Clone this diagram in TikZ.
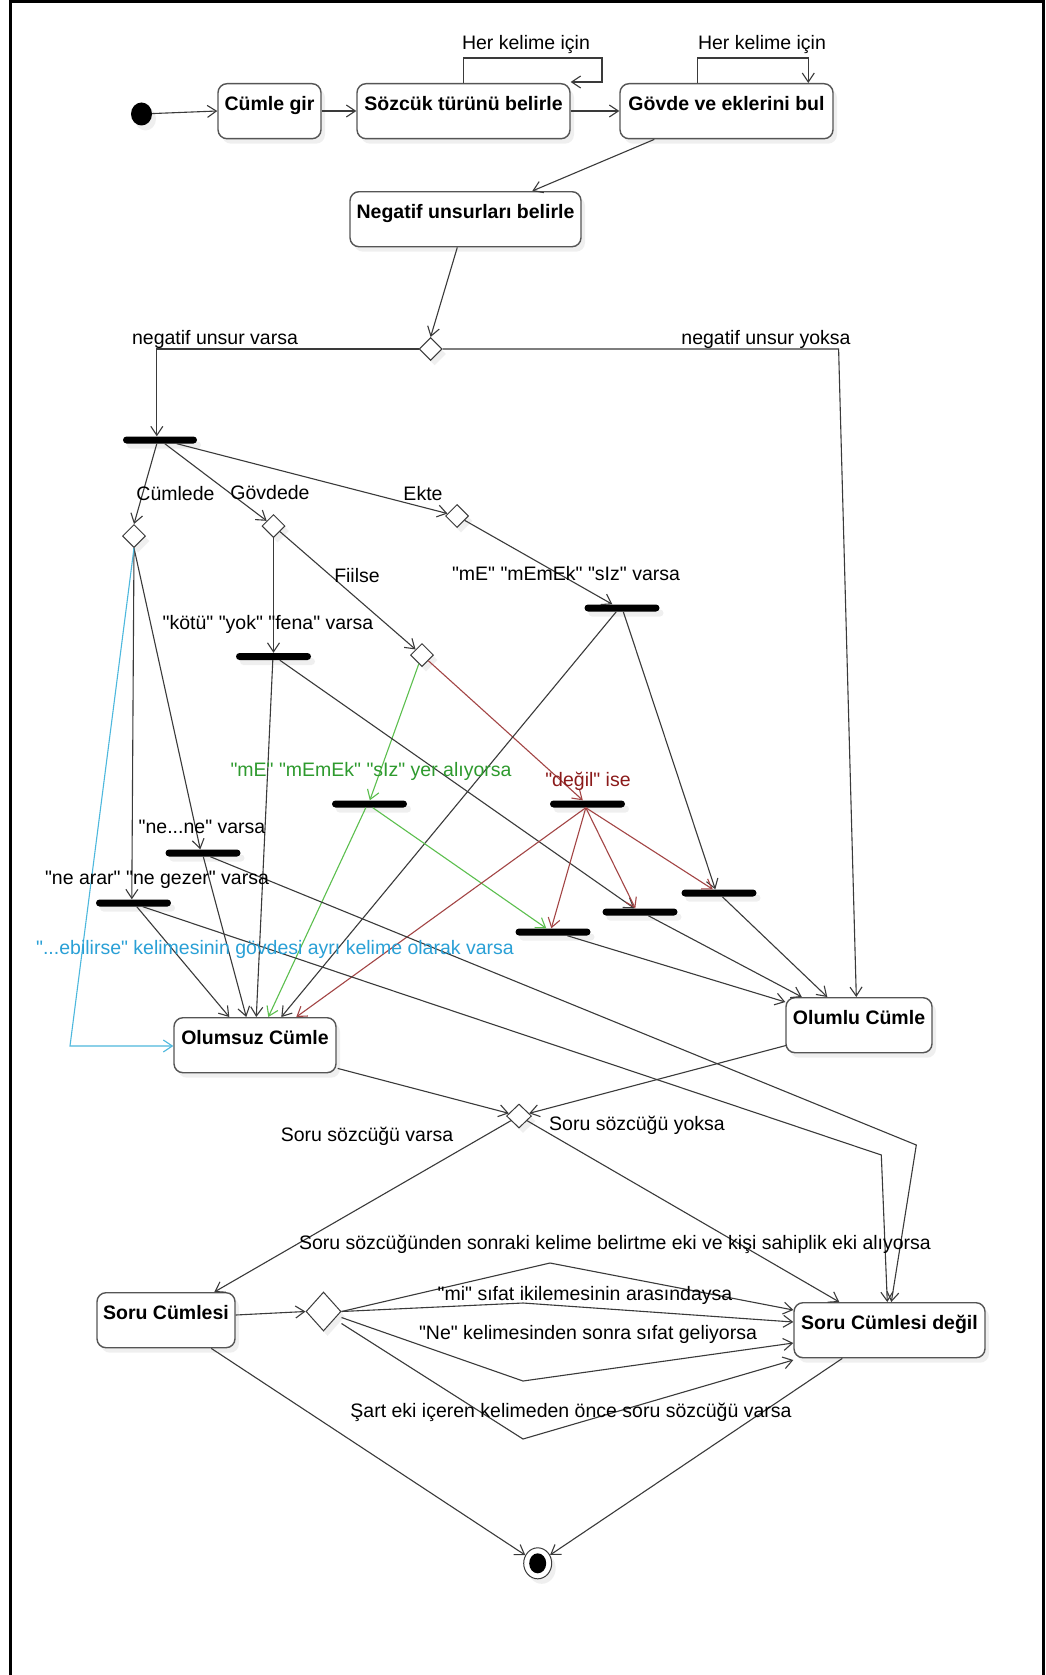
\documentclass[tikz,border=0pt]{standalone}
\usepackage{fontspec}
\newfontfamily\lib{Liberation Sans}
\usetikzlibrary{arrows.meta,calc,shapes.geometric,shadows}

\definecolor{ink}{HTML}{3A3A3A}
\definecolor{boxln}{HTML}{555555}
\definecolor{grnln}{HTML}{5CBF4E}
\definecolor{grntxt}{HTML}{2E9A2E}
\definecolor{redln}{HTML}{A34545}
\definecolor{redtxt}{HTML}{8B1A1A}
\definecolor{bluln}{HTML}{4DB8DD}
\definecolor{blutxt}{HTML}{2AA0D6}

\begin{document}
\begin{tikzpicture}[x=1pt,y=-1pt,
  every node/.style={font=\lib\fontsize{19.5}{23}\selectfont},
  soft/.style={drop shadow={shadow xshift=4pt,shadow yshift=-5pt,opacity=0.12}},
  act/.style={draw=boxln,line width=1.4pt,rounded corners=9pt,fill=white,anchor=north,
    inner xsep=0pt,inner ysep=0pt,text height=27pt,text depth=28pt,
    font=\lib\bfseries\fontsize{19.5}{23}\selectfont,soft},
  dec/.style={diamond,draw=ink,line width=1pt,fill=white,inner sep=0pt,
    minimum width=23pt,minimum height=23pt,soft},
  barn/.style={fill=black,rounded corners=3.5pt,minimum width=75pt,minimum height=7pt,
    inner sep=0pt,soft},
  lbl/.style={inner sep=0pt,text height=14pt,text depth=0pt},
  flow/.style={draw=ink,line width=1.1pt,-{Straight Barb[length=9pt,width=12pt]}}
]
\useasboundingbox (0,0) rectangle (1045,1675);
\fill[white] (0,0) rectangle (1045,1675);
% page frame (open at the bottom)
\draw[line width=3pt] (10.5,1675) -- (10.5,2) -- (1043.5,2) -- (1043.5,1675);

% ---------- activities ----------
\node[ellipse,fill=black,minimum width=21pt,minimum height=23pt,inner sep=0pt,soft] (start) at (141.5,114) {};
\node[act,minimum width=103pt] (cumle)   at (269.5,83)  {Cümle gir};
\node[act,minimum width=213pt] (sozcuk)  at (463.5,83)  {Sözcük türünü belirle};
\node[act,minimum width=213pt] (govde)   at (726.5,83)  {Gövde ve eklerini bul};
\node[act,minimum width=231pt] (negatif) at (465.5,191) {Negatif unsurları belirle};
\node[act,minimum width=162pt] (olumsuz) at (255,1017)  {Olumsuz Cümle};
\node[act,minimum width=146pt] (olumlu)  at (859,997)   {Olumlu Cümle};
\node[act,minimum width=138pt] (soru)    at (166,1292)  {Soru Cümlesi};
\node[act,minimum width=191pt] (sorudegil) at (889.5,1302) {Soru Cümlesi değil};

% ---------- decisions ----------
\node[dec] (d1) at (430.6,349) {};
\node[dec] (dc) at (134,536) {};
\node[dec] (dg) at (273.5,526) {};
\node[dec] (de) at (457,516) {};
\node[dec] (df) at (422,655) {};
\node[dec,minimum width=25pt,minimum height=24pt] (d2) at (519,1116) {};
\node[dec,minimum width=35pt,minimum height=39pt] (d3) at (323.5,1311.5) {};

% ---------- fork / join bars ----------
\node[barn,minimum width=74pt] (fork1) at (160,440) {};
\node[barn] (bar_kotu)   at (273.5,656.5) {};
\node[barn] (bar_E)      at (622,608) {};
\node[barn] (bar_G)      at (369.5,804) {};
\node[barn] (bar_R)      at (587.5,804) {};
\node[barn] (bar_nene)   at (203,853) {};
\node[barn] (bar_nearar) at (133.5,903) {};
\node[barn] (bar_A)      at (553,932) {};
\node[barn] (bar_B)      at (640,912) {};
\node[barn] (bar_C)      at (719,893) {};

% ---------- final state ----------
\node[ellipse,draw=ink,line width=1pt,fill=white,minimum width=28pt,minimum height=31pt,inner sep=0pt,soft] (final) at (537.7,1563.3) {};
\node[ellipse,fill=black,minimum width=17pt,minimum height=20pt,inner sep=0pt] (finalin) at (final) {};

% bend points of the routed connectors
\coordinate (kinkA) at (550,1263);
\coordinate (kinkB) at (523,1303);
\coordinate (kinkC) at (523,1381);
\coordinate (kinkD) at (523,1439);

% ---------- connectors: top row ----------
\draw[flow] (start) -- ($(cumle.north west)+(0,28)$);
\draw[flow] ($(cumle.north east)+(0,28)$) -- ($(sozcuk.north west)+(0,28)$);
\draw[flow] ($(sozcuk.north east)+(0,28)$) -- ($(govde.north west)+(0,28)$);
\draw[flow] (sozcuk.north) -- ++(0,-25) -- ++(138.5,0) -- ++(0,24) -- ($(sozcuk.north east)+(0,-1)$);
\draw[flow] ($(govde.north west)+(78.6,0)$) -- ++(0,-25) -- ++(110.4,0) -- ++(0,25);
\draw[flow] ($(govde.south west)+(35,0)$) -- ($(negatif.north west)+(183,0)$);
\draw[flow] ($(negatif.south west)+(108,0)$) -- (d1.north);

% ---------- negative / positive split ----------
\draw[flow] (d1.west) -| ($(fork1.north west)+(34,0)$);
\draw[flow] (d1.east) -- ($(d1.east)+(396,0)$) -- ($(olumlu.north west)+(71,0)$);

\draw[flow] ($(fork1.south west)+(34,0)$) -- (dc.north);
\draw[flow] ($(fork1.south west)+(42,0)$) -- (dg);
\draw[flow] ($(fork1.south west)+(54,0)$) -- (de);

% sentence level
\draw[flow] (dc.south) -- ($(bar_nearar.north west)+(36,0)$);
\draw[flow] (dc.south) -- ($(bar_nene.north west)+(35,0)$);
\draw[flow,draw=bluln] (dc.south) -- ($(olumsuz.north west)+(-103.3,29)$) -- ($(olumsuz.north west)+(0,29)$);

% stem level
\draw[flow] (dg.south) -- (bar_kotu.north);
\draw[flow] (dg) -- (df);

% suffix level
\draw[flow] (de) -- ($(bar_E.north west)+(28,0)$);

% verb
\draw[flow,draw=grnln] (df) -- ($(bar_G.north west)+(38,0)$);
\draw[flow,draw=redln] (df) -- ($(bar_R.north west)+(33,0)$);

% out of the bars
\draw[flow] ($(bar_kotu.south west)+(37,0)$) -- ($(olumsuz.north west)+(83,0)$);
\draw[flow] ($(bar_kotu.south west)+(44,0)$) -- ($(bar_B.north west)+(32,0)$);
\draw[flow] ($(bar_E.south west)+(32,0)$) -- ($(olumsuz.north west)+(108,0)$);
\draw[flow] ($(bar_E.south west)+(39,0)$) -- ($(bar_C.north west)+(34,0)$);
\draw[flow,draw=grnln] ($(bar_G.south west)+(34,0)$) -- ($(olumsuz.north west)+(95,0)$);
\draw[flow,draw=grnln] ($(bar_G.south west)+(41,0)$) -- ($(bar_A.north west)+(31,0)$);
\draw[flow,draw=redln] ($(bar_R.south west)+(36,0)$) -- ($(bar_A.north west)+(36,0)$);
\draw[flow,draw=redln] ($(bar_R.south west)+(36,0)$) -- ($(bar_B.north west)+(33,0)$);
\draw[flow,draw=redln] ($(bar_R.south west)+(36,0)$) -- ($(bar_C.north west)+(31.5,0)$);
\draw[flow,draw=redln] ($(bar_R.south west)+(36,0)$) -- ($(olumsuz.north west)+(123,0)$);
\draw[flow] ($(bar_nene.south west)+(38,0)$) -- ($(olumsuz.north west)+(73,0)$);
\draw[flow] ($(bar_nene.south west)+(45,0)$) -- ($(sorudegil.north west)+(123,-157)$) -- ($(sorudegil.north west)+(98,0)$);
\draw[flow] ($(bar_nearar.south west)+(41,0)$) -- ($(olumsuz.north west)+(56,0)$);
\draw[flow] ($(bar_nearar.south west)+(47,0)$) -- ($(sorudegil.north west)+(88,-147)$) -- ($(sorudegil.north west)+(94,0)$);
\draw[flow] ($(bar_A.south west)+(52,0)$) -- ($(olumlu.north west)+(0,5)$);
\draw[flow] ($(bar_B.south west)+(46,0)$) -- ($(olumlu.north west)+(16.5,0)$);
\draw[flow] ($(bar_C.south west)+(41,0)$) -- ($(olumlu.north west)+(42,0)$);

% ---------- question part ----------
\draw[flow] ($(olumsuz.south east)+(1,-5)$) -- (d2);
\draw[flow] ($(olumlu.south west)+(1,-8)$) -- (d2);
\draw[flow] (d2) -- ($(soru.north west)+(118,0)$);
\draw[flow] (d2) -- ($(sorudegil.north west)+(46,0)$);
\draw[flow] ($(soru.north east)+(0,23)$) -- (d3.west);
\draw[flow] (d3.east) -- (kinkA) -- ($(sorudegil.north west)+(0,8)$);
\draw[flow] (d3.east) -- (kinkB) -- ($(sorudegil.north west)+(0,20)$);
\draw[flow] ($(d3.east)+(0,6)$) -- (kinkC) -- ($(sorudegil.north west)+(0,41)$);
\draw[flow] ($(d3.east)+(0,12)$) -- (kinkD) -- ($(sorudegil.north west)+(0,58)$);
\draw[flow] ($(soru.south west)+(115,0)$) -- (final);
\draw[flow] ($(sorudegil.south west)+(49,0)$) -- (final);

% ---------- guard labels ----------
\node[lbl] (t1)  at (526,43)  {Her kelime için};
\node[lbl] (t2)  at (762,43)  {Her kelime için};
\node[lbl] (t3)  at (215,337) {negatif unsur varsa};
\node[lbl] (t4)  at (766,337) {negatif unsur yoksa};
\node[lbl] (t5)  at (175.5,493) {Cümlede};
\node[lbl] (t6)  at (270,492) {Gövdede};
\node[lbl] (t7)  at (423,493) {Ekte};
\node[lbl] (t8)  at (357,575) {Fiilse};
\node[lbl] (t9)  at (566,573) {"mE" "mEmEk" "sIz" varsa};
\node[lbl] (t10) at (268,622) {"kötü" "yok" "fena" varsa};
\node[lbl,text=grntxt] (t11) at (371,769) {"mE" "mEmEk" "sIz" yer alıyorsa};
\node[lbl,text=redtxt] (t12) at (588,779) {"değil" ise};
\node[lbl] (t13) at (202,826) {"ne...ne" varsa};
\node[lbl] (t14) at (157,877) {"ne arar" "ne gezer" varsa};
\node[lbl,text=blutxt] (t15) at (275,947) {"...ebilirse" kelimesinin gövdesi ayrı kelime olarak varsa};
\node[lbl] (t16) at (367,1134) {Soru sözcüğü varsa};
\node[lbl] (t17) at (637,1123) {Soru sözcüğü yoksa};
\node[lbl] (t18) at (615,1242) {Soru sözcüğünden sonraki kelime belirtme eki ve kişi sahiplik eki alıyorsa};
\node[lbl] (t19) at (585,1293) {"mi" sıfat ikilemesinin arasındaysa};
\node[lbl] (t20) at (588,1332) {"Ne" kelimesinden sonra sıfat geliyorsa};
\node[lbl] (t21) at (571,1410) {Şart eki içeren kelimeden önce soru sözcüğü varsa};
\end{tikzpicture}
\end{document}
